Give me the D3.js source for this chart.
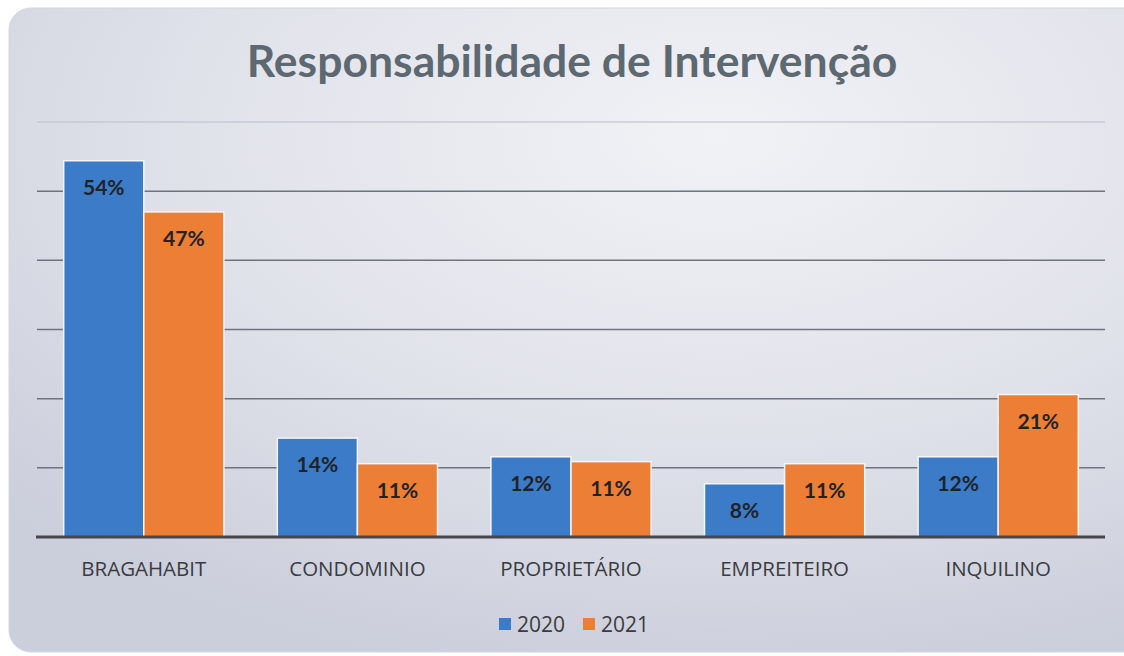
<!DOCTYPE html>
<html>
<head>
<meta charset="utf-8">
<script src="https://cdn.jsdelivr.net/npm/d3@7"></script>
<style>
  html, body { margin: 0; padding: 0; background: #fff; }
  svg { display: block; }
</style>
</head>
<body>
<div id="chart"></div>
<script>
'use strict';

var categories = ['BRAGAHABIT', 'CONDOMINIO', 'PROPRIETÁRIO', 'EMPREITEIRO', 'INQUILINO'];
var seriesNames = ['2020', '2021'];
var values2020 = [54.4, 14.3, 11.6, 7.7, 11.6];
var values2021 = [47.0, 10.6, 10.9, 10.6, 20.6];
var yTicks = [0, 10, 20, 30, 40, 50, 60];
var colors = ['#3b7bc8', '#ec7e35'];

var width = 1124, height = 656;
var margin = { left: 37, right: 19, top: 122, bottom: 119 };

var svg = d3.select('#chart').append('svg')
    .attr('width', width)
    .attr('height', height);

var defs = svg.append('defs');
var grad = defs.append('radialGradient')
    .attr('id', 'bg')
    .attr('cx', '0.62').attr('cy', '0.2').attr('r', '0.85');
grad.append('stop').attr('offset', '0%').attr('stop-color', '#f1f2f6');
grad.append('stop').attr('offset', '55%').attr('stop-color', '#e0e2ea');
grad.append('stop').attr('offset', '100%').attr('stop-color', '#cbcedb');

// card background
svg.append('rect')
    .attr('x', 9).attr('y', 8)
    .attr('width', 1140).attr('height', 644)
    .attr('rx', 22)
    .attr('fill', 'url(#bg)')
    .attr('stroke', '#d4d6de');

svg.append('text')
    .attr('x', 572).attr('y', 77)
    .attr('text-anchor', 'middle')
    .style('font-family', 'Lato, "Open Sans", sans-serif')
    .style('font-weight', 'bold')
    .style('font-size', '44.5px')
    .attr('fill', '#5d6870')
    .text('Responsabilidade de Intervenção');

var x0 = d3.scaleBand()
    .domain(categories)
    .range([margin.left, width - margin.right])
    .paddingInner(0.25)
    .paddingOuter(0.125);

var x1 = d3.scaleBand()
    .domain(seriesNames)
    .range([0, x0.bandwidth()]);

var y = d3.scaleLinear()
    .domain([0, 60])
    .range([height - margin.bottom, margin.top]);

// gridlines
svg.append('g').selectAll('line')
    .data(yTicks.slice(1))
    .enter().append('line')
    .attr('x1', margin.left).attr('x2', width - margin.right)
    .attr('y1', function (d) { return y(d); })
    .attr('y2', function (d) { return y(d); })
    .attr('stroke', function (d) { return d === 60 ? '#b9bcc8' : '#6f7380'; })
    .attr('stroke-width', function (d) { return d === 60 ? 1 : 1.5; });

var data = categories.map(function (c, i) {
    return { cat: c, vals: [values2020[i], values2021[i]] };
});

var groups = svg.append('g').selectAll('g')
    .data(data)
    .enter().append('g')
    .attr('transform', function (d) { return 'translate(' + x0(d.cat) + ',0)'; });

groups.selectAll('rect')
    .data(function (d) { return d.vals.map(function (v, j) { return { s: seriesNames[j], v: v, j: j }; }); })
    .enter().append('rect')
    .attr('x', function (d) { return x1(d.s); })
    .attr('y', function (d) { return y(d.v); })
    .attr('width', x1.bandwidth())
    .attr('height', function (d) { return y(0) - y(d.v); })
    .attr('fill', function (d) { return colors[d.j]; })
    .attr('stroke', '#f4f5f8')
    .attr('stroke-width', 1.5);

groups.selectAll('text')
    .data(function (d) { return d.vals.map(function (v, j) { return { s: seriesNames[j], v: v }; }); })
    .enter().append('text')
    .attr('x', function (d) { return x1(d.s) + x1.bandwidth() / 2; })
    .attr('y', function (d) { return y(d.v) + 34; })
    .attr('text-anchor', 'middle')
    .style('font-family', 'Lato, "Open Sans", sans-serif')
    .style('font-weight', 'bold')
    .style('font-size', '21px')
    .attr('fill', '#1f2328')
    .text(function (d) { return Math.round(d.v) + '%'; });

// baseline
svg.append('line')
    .attr('x1', margin.left - 1).attr('x2', width - margin.right)
    .attr('y1', y(0)).attr('y2', y(0))
    .attr('stroke', '#45474c')
    .attr('stroke-width', 3);

// category axis
var xAxis = svg.append('g')
    .attr('transform', 'translate(0,' + y(0) + ')')
    .call(d3.axisBottom(x0).tickSize(0).tickPadding(24));
xAxis.select('.domain').remove();
xAxis.selectAll('text')
    .style('font-family', '"Open Sans", Lato, sans-serif')
    .style('font-size', '20.5px')
    .attr('fill', '#3a3c40');

// legend
var legend = svg.append('g').attr('transform', 'translate(499,624)');
var items = legend.selectAll('g')
    .data(seriesNames)
    .enter().append('g')
    .attr('transform', function (d, i) { return 'translate(' + (i * 84) + ',0)'; });
items.append('rect')
    .attr('x', 0).attr('y', -6)
    .attr('width', 12).attr('height', 12)
    .attr('fill', function (d, i) { return colors[i]; });
items.append('text')
    .attr('x', 18).attr('y', 8)
    .style('font-family', '"Open Sans", Lato, sans-serif')
    .style('font-size', '21px')
    .attr('fill', '#3a3c40')
    .text(function (d) { return d; });
</script>
</body>
</html>
